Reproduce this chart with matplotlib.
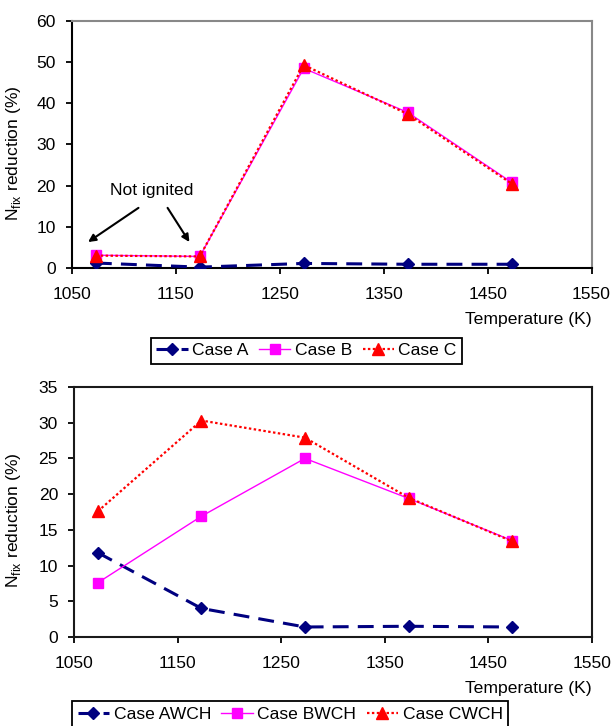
import matplotlib
matplotlib.use("Agg")
import matplotlib.pyplot as plt

plt.rcParams['font.family'] = ['Liberation Sans', 'DejaVu Sans']
plt.rcParams['mathtext.fontset'] = 'custom'
plt.rcParams['mathtext.rm'] = 'Liberation Sans'
plt.rcParams['font.size'] = 12.6

temps = [1073, 1173, 1273, 1373, 1473]

# upper chart
case_a = [1.2, 0.2, 1.1, 0.9, 0.9]
case_b = [3.1, 2.8, 48.5, 37.8, 20.8]
case_c = [3.0, 2.8, 49.3, 37.4, 20.5]
labels_top = ['Case A', 'Case B', 'Case C']

# lower chart (with CH)
case_awch = [11.8, 4.0, 1.4, 1.5, 1.4]
case_bwch = [7.6, 16.9, 25.0, 19.4, 13.5]
case_cwch = [17.6, 30.3, 27.9, 19.5, 13.4]
labels_bot = ['Case AWCH', 'Case BWCH', 'Case CWCH']

navy = '#000080'
mag = '#FF00FF'
red = '#FF0000'

fig = plt.figure(figsize=(6.12, 7.26), dpi=100)


def draw(ax, a, b, c, labels, ymax, ystep):
    la, = ax.plot(temps, a, color=navy, lw=2.2, dashes=(5.2, 3), marker='D',
                  ms=6.5, mfc=navy, mec=navy, label=labels[0], zorder=3)
    lb, = ax.plot(temps, b, color=mag, lw=1.0, marker='s', ms=7.5,
                  mfc=mag, mec=mag, label=labels[1], zorder=4)
    lc, = ax.plot(temps, c, color=red, lw=1.6, dashes=(1.1, 1.1), marker='^',
                  ms=8.5, mfc=red, mec=red, label=labels[2], zorder=5)
    ax.set_xlim(1050, 1550)
    ax.set_ylim(0, ymax)
    ax.set_xticks(range(1050, 1551, 100))
    ax.set_yticks(range(0, ymax + 1, ystep))
    ax.tick_params(direction='out', length=4.5, width=1.3)
    ax.tick_params(axis='x', pad=9)
    ax.tick_params(axis='y', pad=7)
    ax.set_ylabel('N$_{\\mathrm{fix}}$ reduction (%)')
    ax.text(1.0, -0.208, 'Temperature (K)', transform=ax.transAxes,
            ha='right', va='center')
    return [la, lb, lc]


ax1 = fig.add_axes([0.1176, 0.6309, 0.849, 0.3402])
h1 = draw(ax1, case_a, case_b, case_c, labels_top, 60, 10)
for s in ['left', 'bottom']:
    ax1.spines[s].set_linewidth(1.5)
    ax1.spines[s].set_color('black')
for s in ['top', 'right']:
    ax1.spines[s].set_linewidth(1.5)
    ax1.spines[s].set_color('#888888')
ax1.yaxis.set_label_coords(-0.094, 0.466)

ax1.annotate('', xy=(1065.5, 6.3), xytext=(1114, 14.6),
             arrowprops=dict(arrowstyle='-|>', color='black', lw=1.5,
                             mutation_scale=11, shrinkA=0, shrinkB=0))
ax1.annotate('', xy=(1163, 6.3), xytext=(1142, 14.6),
             arrowprops=dict(arrowstyle='-|>', color='black', lw=1.5,
                             mutation_scale=11, shrinkA=0, shrinkB=0))
ax1.text(1127, 18.7, 'Not ignited', ha='center', va='center')

ax2 = fig.add_axes([0.121, 0.1226, 0.846, 0.3444])
h2 = draw(ax2, case_awch, case_bwch, case_cwch, labels_bot, 35, 5)
for s in ax2.spines.values():
    s.set_linewidth(1.5)
    s.set_color('#1a1a1a')
ax2.yaxis.set_label_coords(-0.098, 0.468)

leg_kw = dict(loc='center', ncol=3, fancybox=False, edgecolor='black',
              framealpha=1, borderpad=0.3, columnspacing=0.6,
              handletextpad=0.25, handlelength=1.8, numpoints=1,
              borderaxespad=0)
l1 = fig.legend(handles=h1, bbox_to_anchor=(0.5008, 0.517), **leg_kw)
l2 = fig.legend(handles=h2, bbox_to_anchor=(0.474, 0.0165), **leg_kw)
for leg in (l1, l2):
    leg.get_frame().set_linewidth(1.3)

fig.savefig('out.png', dpi=100)
